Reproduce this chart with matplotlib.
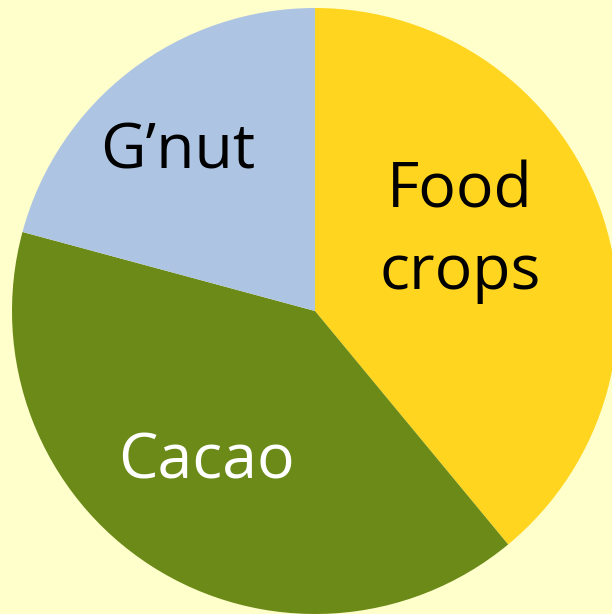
import matplotlib
matplotlib.use("Agg")
import matplotlib.pyplot as plt

categories = ["Food\ncrops", "Cacao", "G\u2019nut"]
values = [39.0, 40.2, 20.8]
colors = ["#FFD520", "#6B8A18", "#ADC4E3"]
text_colors = ["black", "white", "black"]

bg = "#FFFFCC"
fig = plt.figure(figsize=(6.12, 6.14), dpi=100, facecolor=bg)
ax = fig.add_axes([0, 0, 1, 1])
ax.set_facecolor(bg)

wedges, _ = ax.pie(values, colors=colors, startangle=90, counterclock=False,
                   center=(315, 303), radius=303, frame=True,
                   wedgeprops=dict(linewidth=0))
ax.set_xlim(0, 612)
ax.set_ylim(0, 614)
ax.set_aspect("equal")
ax.axis("off")

label_pos = [(460, 614 - 232), (206, 614 - 462), (178, 614 - 152)]
for lab, (x, y), c in zip(categories, label_pos, text_colors):
    ax.text(x, y, lab, ha="center", va="center", color=c, fontsize=45,
            family=["Open Sans", "DejaVu Sans"], linespacing=1.4)

fig.savefig("out.png", dpi=100, facecolor=bg)
